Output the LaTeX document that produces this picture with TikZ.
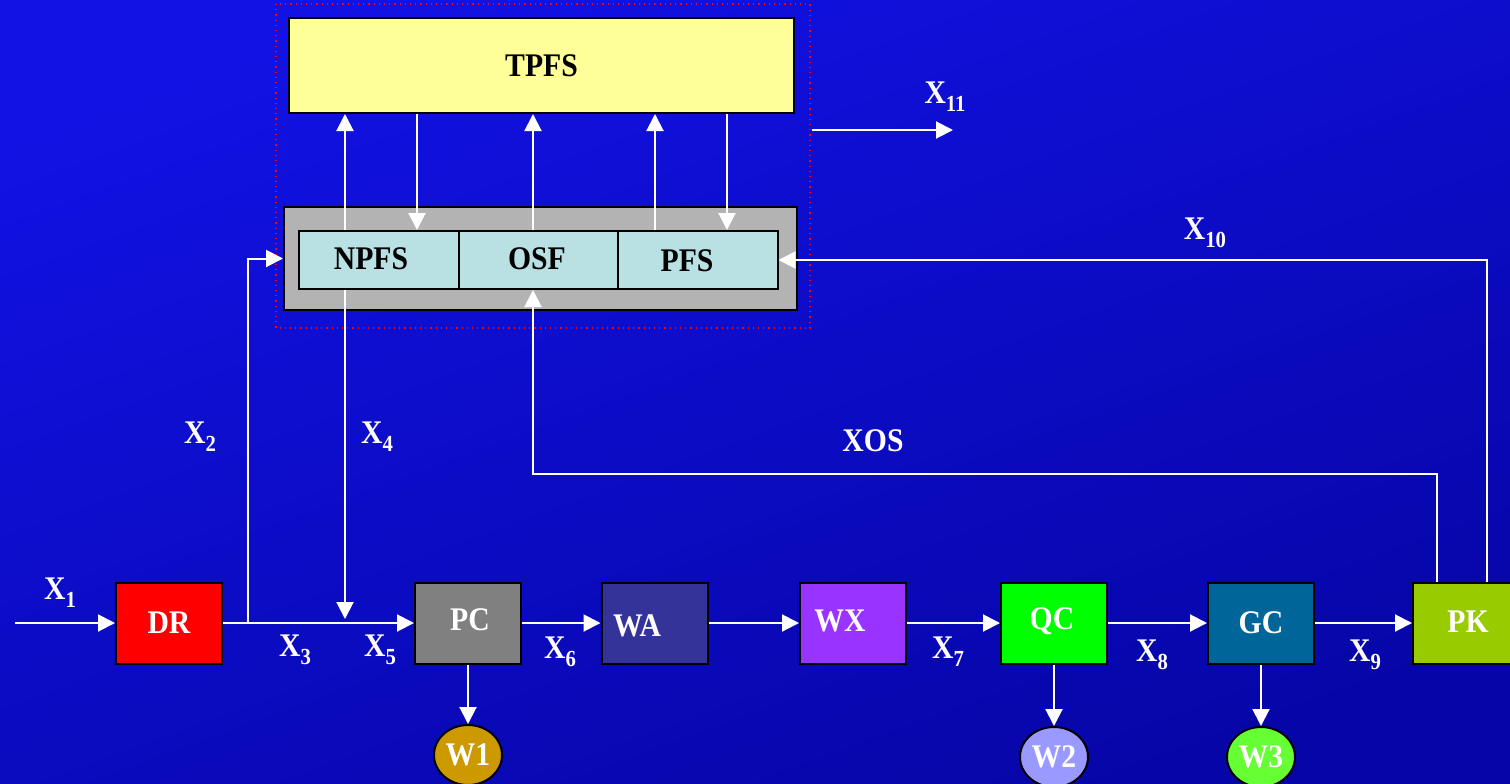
\documentclass[tikz,border=0pt]{standalone}
\usepackage{fontspec}
\setmainfont[FakeStretch=0.9]{Liberation Serif}
\usetikzlibrary{arrows.meta,shapes.geometric}
\definecolor{bgtop}{RGB}{18,18,228}
\definecolor{bgbot}{RGB}{6,6,168}
\definecolor{tpfscol}{RGB}{255,255,153}
\definecolor{graycol}{RGB}{179,179,179}
\definecolor{subcol}{RGB}{185,224,227}
\definecolor{drcol}{RGB}{255,0,0}
\definecolor{pccol}{RGB}{128,128,128}
\definecolor{wacol}{RGB}{51,51,153}
\definecolor{wxcol}{RGB}{153,51,255}
\definecolor{qccol}{RGB}{0,255,0}
\definecolor{gccol}{RGB}{0,102,153}
\definecolor{pkcol}{RGB}{153,204,0}
\definecolor{wonecol}{RGB}{204,153,0}
\definecolor{wtwocol}{RGB}{153,153,255}
\definecolor{wthreecol}{RGB}{102,255,51}
\newcommand{\xsub}[1]{X\raisebox{-4pt}{\fontsize{11.5}{12}\selectfont #1}}
\begin{document}
\begin{tikzpicture}[x=0.5pt,y=-0.5pt,
  box/.style={draw=black,line width=1pt,minimum width=53pt,minimum height=40.5pt,
    inner sep=0pt,text=white,font=\fontsize{16.5}{18}\selectfont\bfseries},
  subbox/.style={box,fill=subcol,text=black,minimum width=80pt,minimum height=29pt},
  boxtxt/.style={inner sep=0pt,text=white,font=\fontsize{16.5}{18}\selectfont\bfseries},
  waste/.style={ellipse,draw=black,line width=1pt,minimum width=34pt,minimum height=30pt,
    inner sep=0pt,text=white,font=\fontsize{16.5}{18}\selectfont\bfseries},
  lbl/.style={inner sep=0pt,text=white,font=\fontsize{16.5}{18}\selectfont\bfseries},
  flow/.style={draw=white,line width=1pt,-{Triangle[length=8.5pt,width=8.5pt]}}]
\shade[top color=bgtop,bottom color=bgbot,shading angle=20] (0,0) rectangle (1510,783);
\useasboundingbox (0,0) rectangle (1510,783);
% store of production functions
\draw[red,dotted,line width=0.6pt] (276,4) rectangle (810,328);
\node[box,fill=tpfscol,text=black,minimum width=252.5pt,minimum height=47.5pt] (tpfs) at (541.5,65.5) {TPFS};
\node[box,fill=graycol,minimum width=256.5pt,minimum height=51.5pt] (gray) at (540.5,258.5) {};
\node[subbox] (npfs) at (379,260) {};
\node[subbox] (osf) at (538.5,260) {};
\node[subbox] (pfs) at (697.5,260) {};
\node[boxtxt,text=black] (npfstxt) at (371,259) {NPFS};
\node[boxtxt,text=black] (osftxt) at (537,259) {OSF};
\node[boxtxt,text=black] (pfstxt) at (687,261) {PFS};
% process chain
\node[box,fill=drcol] (dr) at (169,623) {DR};
\node[box,fill=pccol] (pc) at (468,623) {};
\node[boxtxt] (pctxt) at (470,620) {PC};
\node[box,fill=wacol] (wa) at (654.5,623) {};
\node[boxtxt] (watxt) at (637,626) {WA};
\node[box,fill=wxcol] (wx) at (853,623) {};
\node[boxtxt] (wxtxt) at (840,621) {WX};
\node[box,fill=qccol] (qc) at (1054,623) {};
\node[boxtxt] (qctxt) at (1052,621) {QC};
\node[box,fill=gccol] (gc) at (1261,623) {GC};
\node[box,fill=pkcol] (pk) at (1466,623) {};
\node[boxtxt] (pktxt) at (1468,622) {PK};
\node[waste,fill=wonecol] (w1) at (468,755) {W1};
\node[waste,fill=wtwocol] (w2) at (1054,757) {W2};
\node[waste,fill=wthreecol] (w3) at (1261,757) {W3};
% flows
\coordinate (start) at (15,623);
\coordinate (j2) at (248,623);
\coordinate (j4) at (345,619);
\coordinate (xos) at (533,474);
\coordinate (pkl) at (1437,0);
\coordinate (pkr) at (1487,0);
\coordinate (x11a) at (812,130);
\coordinate (x11b) at (953,130);
\draw[flow] (start) -- (dr.west);
\draw[flow] (dr.east) -- (pc.west);
\draw[flow] (j2) |- (gray.west);
\draw[flow] (j4 |- npfs.south) -- (j4);
\foreach \xx/\from/\to in {345/npfs.north/tpfs.south, 417/tpfs.south/npfs.north,
    533/osf.north/tpfs.south, 655/pfs.north/tpfs.south, 727/tpfs.south/pfs.north}{
  \coordinate (cx) at (\xx,0);
  \draw[flow] (cx |- \from) -- (cx |- \to);
}
\draw[flow] (pkl |- pk.north) |- (xos) -- (xos |- osf.south);
\draw[flow] (pkr |- pk.north) |- (pfs.east);
\draw[flow] (x11a) -- (x11b);
\draw[flow] (pc.east) -- (wa.west);
\draw[flow] (wa.east) -- (wx.west);
\draw[flow] (wx.east) -- (qc.west);
\draw[flow] (qc.east) -- (gc.west);
\draw[flow] (gc.east) -- (pk.west);
\draw[flow] (pc.south) -- (w1.north);
\draw[flow] (qc.south) -- (w2.north);
\draw[flow] (gc.south) -- (w3.north);
% labels
\node[lbl] (lx1) at (60,593) {\xsub{1}};
\node[lbl] (lx2) at (200,437) {\xsub{2}};
\node[lbl] (lx3) at (295,650) {\xsub{3}};
\node[lbl] (lx4) at (377,437) {\xsub{4}};
\node[lbl] (lx5) at (380,650) {\xsub{5}};
\node[lbl] (lx6) at (560,652) {\xsub{6}};
\node[lbl] (lx7) at (948,652) {\xsub{7}};
\node[lbl] (lx8) at (1152,655) {\xsub{8}};
\node[lbl] (lx9) at (1365,655) {\xsub{9}};
\node[lbl] (lx10) at (1205,233) {\xsub{10}};
\node[lbl] (lx11) at (945,97) {\xsub{11}};
\node[lbl] (lxos) at (873,441) {XOS};
\end{tikzpicture}
\end{document}
